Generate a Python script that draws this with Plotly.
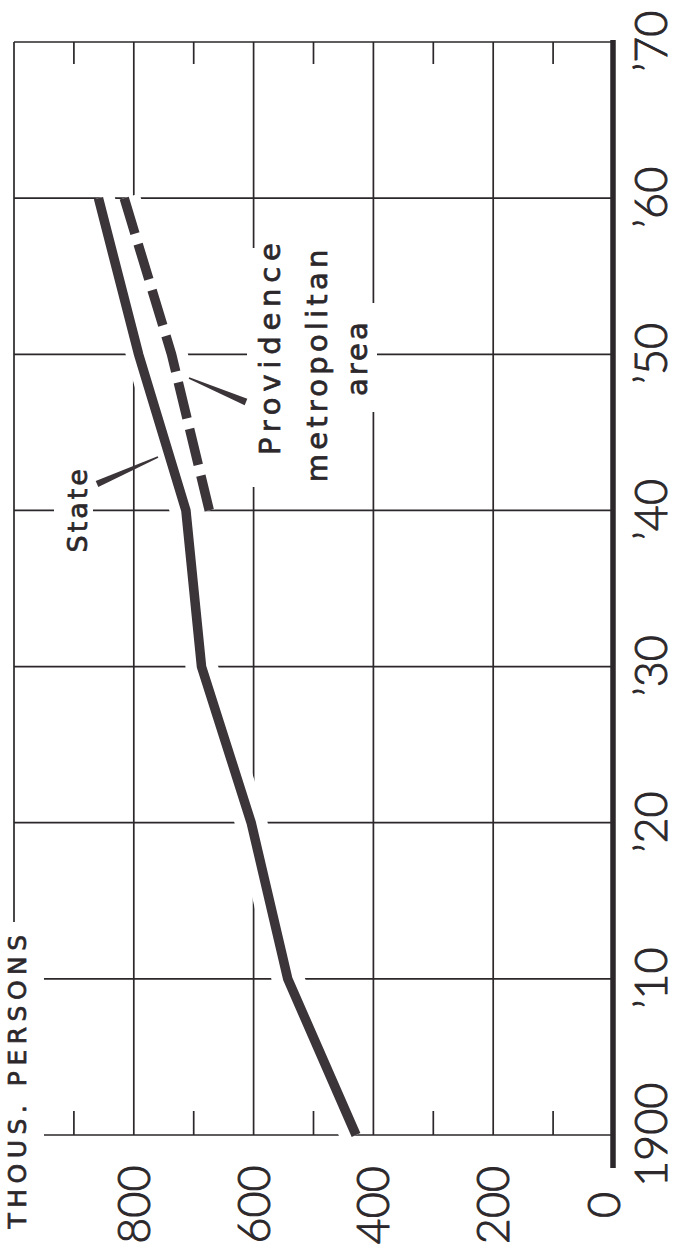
import plotly.graph_objects as go

# ---------------- data ----------------
years = [1900, 1910, 1920, 1930, 1940, 1950, 1960]
state_pop = [429, 543, 604, 687, 713, 792, 859]          # thousands
metro_years = [1940, 1950, 1960]
metro_pop = [674, 737, 816]                              # thousands

year_ticks = [1900, 1910, 1920, 1930, 1940, 1950, 1960, 1970]
year_labels = ["1900", "’10", "’20", "’30", "’40", "’50", "’60", "’70"]
pop_ticks = [0, 200, 400, 600, 800]
pop_labels = ["0", "200", "400", "600", "800"]
pop_minor = [100, 300, 500, 700, 900]
pop_max = 1000
year_min, year_max = 1900, 1970

# ---------------- geometry / style ----------------
W, H = 679, 1256
X0_PX, XMAX_PX = 613, 14        # pixel column of value 0 and of pop_max
YMIN_PX, YMAX_PX = 1135, 42     # pixel row of 1900 and 1970
sx = (X0_PX - XMAX_PX) / pop_max
sy = (YMIN_PX - YMAX_PX) / (year_max - year_min)


def vx(px):
    return (X0_PX - px) / sx


def vy(py):
    return year_min + (YMIN_PX - py) / sy


INK = "#2b272a"
CURVE = "#3b3439"
TEXT_FONT = "DejaVu Sans"
NUM_FONT = "Lato"
GRID_W = 1.7

shapes = []

# grid: horizontal year lines
for t in year_ticks:
    shapes.append(dict(type="line", xref="x", yref="y", x0=pop_max, x1=0, y0=t, y1=t,
                       line=dict(color=INK, width=GRID_W), layer="below"))
# grid: vertical population lines + left border
for v in pop_ticks[1:] + [pop_max]:
    shapes.append(dict(type="line", xref="x", yref="y", x0=v, x1=v, y0=year_min, y1=year_max,
                       line=dict(color=INK, width=GRID_W), layer="below"))
# minor ticks top and bottom
for v in pop_minor:
    shapes.append(dict(type="line", xref="x", yref="y", x0=v, x1=v, y0=year_min, y1=vy(YMIN_PX - 24),
                       line=dict(color=INK, width=GRID_W), layer="below"))
    shapes.append(dict(type="line", xref="x", yref="y", x0=v, x1=v, y0=year_max, y1=vy(YMAX_PX + 22),
                       line=dict(color=INK, width=GRID_W), layer="below"))

# white knock-outs behind lettering
def knock(px0, px1, py0, py1):
    shapes.append(dict(type="rect", xref="x", yref="y", x0=vx(px0), x1=vx(px1), y0=vy(py1), y1=vy(py0),
                       fillcolor="white", line=dict(width=0), layer="below"))

knock(-5, 44, 922, 1260)      # THOUS. PERSONS
knock(54, 93, 465, 555)       # State
knock(247, 292, 248, 487)     # Providence
knock(292, 342, 240, 490)     # metropolitan
knock(342, 377, 303, 412)     # area

# thick zero axis
shapes.append(dict(type="line", xref="x", yref="y", x0=0, x1=0, y0=vy(1168), y1=vy(40),
                   line=dict(color=INK, width=5.5), layer="above"))


# tapered leader lines
def wedge(thick_px, thin_px, half_thick, half_thin):
    (x1, y1), (x2, y2) = thick_px, thin_px
    dx, dy = x2 - x1, y2 - y1
    n = (dx * dx + dy * dy) ** 0.5
    px, py = -dy / n, dx / n
    pts = [(x1 + px * half_thick, y1 + py * half_thick),
           (x2 + px * half_thin, y2 + py * half_thin),
           (x2 - px * half_thin, y2 - py * half_thin),
           (x1 - px * half_thick, y1 - py * half_thick)]
    path = "M " + " L ".join(f"{vx(a):.3f},{vy(b):.3f}" for a, b in pts) + " Z"
    shapes.append(dict(type="path", xref="x", yref="y", path=path, fillcolor=CURVE,
                       line=dict(width=0), layer="above"))

wedge((97, 484), (158, 457), 3.2, 0.8)
wedge((246, 402), (189, 378), 3.4, 0.8)

# ---------------- traces ----------------
fig = go.Figure()
HALO = 32
LW = 9.5
fig.add_trace(go.Scatter(x=state_pop, y=years, mode="lines",
                         line=dict(color="white", width=HALO), hoverinfo="skip"))
fig.add_trace(go.Scatter(x=metro_pop[::-1], y=metro_years[::-1], mode="lines",
                         line=dict(color="white", width=HALO), hoverinfo="skip"))
fig.add_trace(go.Scatter(x=state_pop, y=years, mode="lines", name="State",
                         line=dict(color=CURVE, width=LW)))
fig.add_trace(go.Scatter(x=metro_pop[::-1], y=metro_years[::-1], mode="lines",
                         name="Providence metropolitan area",
                         line=dict(color=CURVE, width=LW, dash="37px,11px")))

# ---------------- annotations ----------------
ann = []
for t, lab in zip(year_ticks, year_labels):
    ann.append(dict(x=vx(650), y=t, text=lab, textangle=-90))
for i, (v, lab) in enumerate(zip(pop_ticks, pop_labels)):
    ann.append(dict(x=v, y=vy(1205), text=lab, textangle=-90, xshift=(-10 if v == 0 else -1)))
num_font = dict(family=NUM_FONT, size=45, color=INK, weight=300)
for a in ann:
    a.update(xref="x", yref="y", showarrow=False, xanchor="center", yanchor="middle", font=num_font)

labels = [
    ("THOUS. PERSONS", 17, 1080, 25),
    ("State", 77, 510, 27),
    ("Providence", 270, 346, 29),
    ("metropolitan", 317, 364, 29),
    ("area", 357, 358, 29),
]
for text, px, py, size in labels:
    ann.append(dict(x=vx(px), y=vy(py), xref="x", yref="y", text=text, textangle=-90,
                    showarrow=False, xanchor="center", yanchor="middle",
                    font=dict(family=TEXT_FONT, size=size, color=INK)))

fig.update_layout(
    width=W, height=H, margin=dict(l=0, r=0, t=0, b=0),
    paper_bgcolor="white", plot_bgcolor="white", showlegend=False,
    xaxis=dict(range=[vx(0), vx(W)], visible=False, fixedrange=True),
    yaxis=dict(range=[vy(H), vy(0)], visible=False, fixedrange=True),
    shapes=shapes, annotations=ann,
)

page_js = """
document.body.style.margin = '0';
document.body.style.padding = '0';
var gd = document.getElementById('{plot_id}');
var sp = {"THOUS. PERSONS": "5.5px", "State": "3px", "Providence": "5.8px",
          "metropolitan": "4.2px", "area": "3px"};
gd.querySelectorAll('text.annotation-text').forEach(function(t){
  var s = sp[t.textContent];
  t.style.stroke = '#2b272a';
  if (s) {
    t.style.letterSpacing = s;
    t.style.strokeWidth = '0.7px';
  } else {
    t.style.strokeWidth = '0.9px';
  }
});
"""

fig.write_html("out.html", post_script=page_js, config={"displayModeBar": False})
